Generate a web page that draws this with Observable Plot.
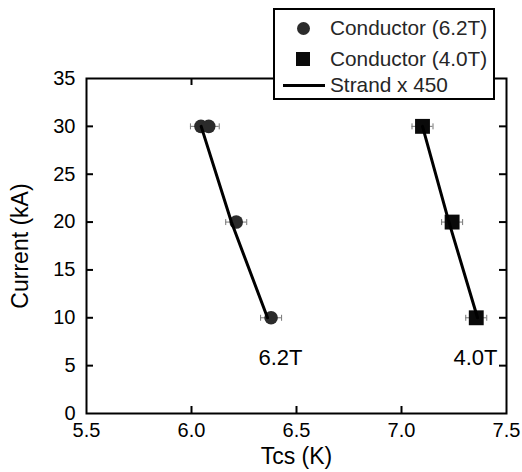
<!DOCTYPE html>
<html><head><meta charset="utf-8">
<script src="https://cdn.jsdelivr.net/npm/d3@7"></script>
<script src="https://cdn.jsdelivr.net/npm/@observablehq/plot@0.6"></script>
<style>
body{margin:0;background:#fff;font-family:"Liberation Sans",Arial,sans-serif;}
#wrap{position:relative;width:522px;height:472px;}
#legend{position:absolute;left:273px;top:8px;width:222px;height:92px;box-sizing:border-box;border:2px solid #000;background:#fff;}
#legend .txt{position:absolute;left:55px;font-size:20.8px;line-height:20px;color:#262626;white-space:nowrap;}
#legend .circ{position:absolute;left:21.5px;top:11.5px;width:13px;height:13px;border-radius:50%;background:#2b2b2b;}
#legend .sq{position:absolute;left:21px;top:42px;width:14px;height:14px;background:#0a0a0a;}
#legend .ln{position:absolute;left:8px;top:73.5px;width:42px;height:3px;background:#000;}
</style></head><body><div id="wrap"></div>
<script>
// Data
const current62 = [30, 30, 20, 10];
const tcs62 = [6.045, 6.082, 6.213, 6.379];
const current40 = [30, 20, 10];
const tcs40 = [7.10, 7.241, 7.356];
const tcsErr = 0.05;
const strandCurrent = [30, 20, 10];
const strand62 = [6.046, 6.19, 6.362];
const strand40 = [7.10, 7.226, 7.362];
const xTicks = [5.5, 6, 6.5, 7, 7.5];
const yTicks = [0, 5, 10, 15, 20, 25, 30, 35];
const xInner = [6, 6.5, 7];
const yInner = [5, 10, 15, 20, 25, 30];
const annoText = ["6.2T", "4.0T"];
const annoX = [6.424, 7.352];
const annoY = [5.8, 5.8];
const legendLabels = ["Conductor (6.2T)", "Conductor (4.0T)", "Strand x 450"];

const c62 = tcs62.map((x, i) => ({x, y: current62[i]}));
const c40 = tcs40.map((x, i) => ({x, y: current40[i]}));
const s62 = strand62.map((x, i) => ({x, y: strandCurrent[i]}));
const s40 = strand40.map((x, i) => ({x, y: strandCurrent[i]}));
const errPts = [...c62, ...c40];
const caps = errPts.flatMap(d => [{x: d.x - tcsErr, y: d.y}, {x: d.x + tcsErr, y: d.y}]);
const anno = annoText.map((t, i) => ({t, x: annoX[i], y: annoY[i]}));

const capSymbol = {draw(ctx, size) { const r = Math.sqrt(size / Math.PI); ctx.moveTo(0, -r); ctx.lineTo(0, r); }};

const W = 522, H = 472, ML = 86, MR = 16, MT = 78, MB = 59;
const PW = W - ML - MR, PH = H - MT - MB;

const chart = Plot.plot({
  width: W, height: H,
  marginLeft: ML, marginRight: MR, marginTop: MT, marginBottom: MB,
  style: {fontFamily: "Liberation Sans, Arial, sans-serif", fontSize: "20px", color: "#000", background: "transparent"},
  x: {domain: [5.5, 7.5]},
  y: {domain: [0, 35]},
  marks: [
    Plot.axisX({ticks: xTicks, tickSize: 0, tickPadding: 9, fontSize: 20, label: null}),
    Plot.axisY({ticks: yTicks, tickSize: 0, tickPadding: 11, fontSize: 20, label: null}),
    Plot.tickX(xInner, {x: d => d, insetTop: PH - 7, stroke: "#000", strokeWidth: 2}),
    Plot.tickX(xInner, {x: d => d, insetBottom: PH - 7, stroke: "#000", strokeWidth: 2}),
    Plot.tickY(yInner, {y: d => d, insetRight: PW - 7, stroke: "#000", strokeWidth: 2}),
    Plot.tickY(yInner, {y: d => d, insetLeft: PW - 7, stroke: "#000", strokeWidth: 2}),
    Plot.frame({stroke: "#000", strokeWidth: 2}),
    Plot.ruleY(errPts, {y: "y", x1: d => d.x - tcsErr, x2: d => d.x + tcsErr, stroke: "#777", strokeWidth: 1}),
    Plot.dot(caps, {x: "x", y: "y", r: 3, symbol: capSymbol, stroke: "#777", strokeWidth: 1, fill: "none"}),
    Plot.dot(c62, {x: "x", y: "y", r: 6.8, fill: "#2b2b2b", stroke: "none"}),
    Plot.dot(c40, {x: "x", y: "y", r: 8.4, symbol: "square", fill: "#0a0a0a", stroke: "none"}),
    Plot.line(s62, {x: "x", y: "y", stroke: "#000", strokeWidth: 3}),
    Plot.line(s40, {x: "x", y: "y", stroke: "#000", strokeWidth: 3}),
    Plot.text(anno, {x: "x", y: "y", text: "t", fontSize: 22, fill: "#000"}),
    Plot.text(["Current (kA)"], {frameAnchor: "left", dx: -66, rotate: -90, textAnchor: "middle", fontSize: 23, fill: "#000"}),
    Plot.text(["Tcs (K)"], {frameAnchor: "bottom", dy: 50, textAnchor: "middle", fontSize: 23, fill: "#000"})
  ]
});
const wrap = document.getElementById("wrap");
wrap.appendChild(chart);

const legend = document.createElement("div");
legend.id = "legend";
legend.innerHTML = `<div class="circ"></div><div class="sq"></div><div class="ln"></div>` +
  legendLabels.map((l, i) => `<div class="txt" style="top:${[8, 39, 65][i]}px">${l}</div>`).join("");
wrap.appendChild(legend);
</script>
</body></html>
